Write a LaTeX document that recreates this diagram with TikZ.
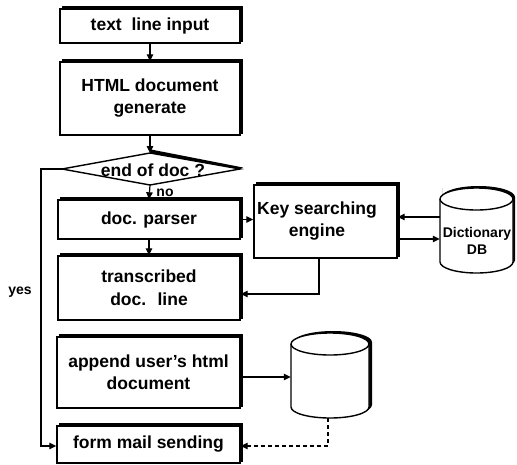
\documentclass[tikz,border=0pt]{standalone}
\usepackage{fontspec}
\setmainfont{Liberation Sans}
\usetikzlibrary{arrows.meta}
\begin{document}
\begin{tikzpicture}[x=1pt,y=1pt,
  every node/.style={inner sep=0pt},
  mainfont/.style={font=\fontsize{17.5}{22}\selectfont\bfseries},
  box/.style={draw, line width=1.4pt, fill=white, align=center, mainfont,
    preaction={draw, fill=black, line width=1.4pt, transform canvas={xshift=2.5pt, yshift=2pt}}},
  arr/.style={line width=1.2pt, -{Triangle[length=7pt,width=6.5pt]}},
  lbl/.style={font=\fontsize{14}{16}\selectfont\bfseries}
]
\useasboundingbox (0,0) rectangle (517,-464);

% boxes
\node[box, minimum width=180pt, minimum height=34pt] (b1) at (150,-26) {text~ line input};
\node[box, minimum width=180pt, minimum height=73pt] (b2) at (150,-98.5) {HTML document\\generate};
\node[box, minimum width=182pt, minimum height=39pt] (b3) at (149,-219.5) {doc. parser};
\node[box, minimum width=182pt, minimum height=64pt] (b4) at (149,-288) {transcribed\\[1pt]doc.~ line};
\node[box, minimum width=183pt, minimum height=71pt] (b5) at (148.5,-372.5) {append user's html\\document};
\node[box, minimum width=183pt, minimum height=37pt] (b6) at (148.5,-444.5) {form mail sending};
\node[box, minimum width=143pt, minimum height=73pt] (key) at (325.5,-221.5) {};
\node[mainfont, align=center] (keyt) at (317,-221) {Key searching\\engine};

% decision diamond
\coordinate (dL) at (62,-169);
\coordinate (dT) at (150,-153);
\coordinate (dR) at (240,-169);
\coordinate (dB) at (150,-185);
\fill (dT) -- (dR) -- (243,-167.5) -- (151,-149.5) -- cycle;
\draw[line width=1.4pt, fill=white, line join=miter] (dL) -- (dT) -- (dR) -- (dB) -- cycle;
\node[mainfont] (dec) at (153,-170) {end of doc ?};

% dictionary cylinder
\fill (442,-188) -- (442,-260) arc[start angle=180,end angle=360,x radius=36.5,y radius=11] -- (515,-197) arc[start angle=0,end angle=180,x radius=36.5,y radius=11] -- cycle;
\draw[line width=1.4pt, fill=white] (440,-199) -- (440,-262) arc[start angle=180,end angle=360,x radius=36.5,y radius=11] -- (513,-199) arc[start angle=0,end angle=180,x radius=36.5,y radius=11] -- cycle;
\draw[line width=1.4pt] (440,-199) arc[start angle=180,end angle=360,x radius=36.5,y radius=11];
\node[minimum width=73pt, minimum height=85pt] (dict) at (476.5,-230.5) {};
\node[font=\fontsize{14}{17}\selectfont\bfseries, align=center] (dictt) at (477,-240.5) {Dictionary\\DB};

% second cylinder
\fill (294,-342) -- (294,-405) arc[start angle=180,end angle=360,x radius=39,y radius=11] -- (372,-342) arc[start angle=0,end angle=180,x radius=39,y radius=11] -- cycle;
\draw[line width=1.4pt, fill=white] (291,-344) -- (291,-407) arc[start angle=180,end angle=360,x radius=39,y radius=11] -- (369,-344) arc[start angle=0,end angle=180,x radius=39,y radius=11] -- cycle;
\draw[line width=1.4pt] (291,-344) arc[start angle=180,end angle=360,x radius=39,y radius=11];
\node[minimum width=78pt, minimum height=85pt] (cyl) at (330,-375.5) {};

% connectors
\draw[arr] (b1.south) -- (b2.north);
\draw[arr] (b2.south) -- (dT);
\draw[arr] (dB) -- (b3.north);
\draw[arr] (b3.south) -- (b4.north);
\draw[arr] (b3.east) -- (b3.east -| key.west);
\coordinate (p1) at ([yshift=13.5pt]dict.west);
\draw[arr] (p1) -- (p1 -| key.east);
\coordinate (p2) at ([yshift=-17.5pt]key.east);
\draw[arr] (p2) -- (p2 -| dict.west);
\coordinate (p3) at ([xshift=-6.5pt]key.south);
\coordinate (p4) at ([yshift=-6pt]b4.east);
\draw[arr] (p3) |- (p4);
\coordinate (p5) at ([yshift=-4.5pt]b5.east);
\draw[arr] (p5) -- (p5 -| cyl.west);
\coordinate (p6) at ([xshift=-2pt]cyl.south);
\coordinate (p7) at ([yshift=-1.5pt]b6.east);
\draw[arr, dashed, dash pattern=on 4pt off 3pt] (p6) |- (p7);
\coordinate (yl) at (41,-169);
\coordinate (p8) at ([yshift=-1.5pt]b6.west);
\draw[arr] (dL) -- (yl) |- (p8);

% labels
\node[lbl] (no) at (165,-193) {no};
\node[lbl] (yes) at (20,-292) {yes};
\end{tikzpicture}
\end{document}
